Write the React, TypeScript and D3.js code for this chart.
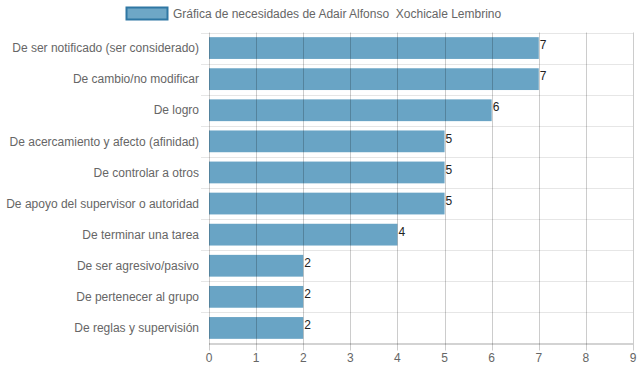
// Horizontal bar chart — "Gráfica de necesidades", drawn with d3 scales into JSX svg.
import * as d3 from "d3";

const CATEGORIES = [
  "De ser notificado (ser considerado)",
  "De cambio/no modificar",
  "De logro",
  "De acercamiento y afecto (afinidad)",
  "De controlar a otros",
  "De apoyo del supervisor o autoridad",
  "De terminar una tarea",
  "De ser agresivo/pasivo",
  "De pertenecer al grupo",
  "De reglas y supervisión",
];
const VALUES = [7, 7, 6, 5, 5, 5, 4, 2, 2, 2];
const X_TICKS = [0, 1, 2, 3, 4, 5, 6, 7, 8, 9];
const LEGEND_LABEL = "Gráfica de necesidades de Adair Alfonso  Xochicale Lembrino";

const W = 639;
const H = 372;
const FONT = "'Liberation Sans', Arial, Helvetica, sans-serif";

export default function App() {
  const left = 209;
  const right = 633;
  const top = 32.5;
  const bottom = 343.5;

  const x = d3.scaleLinear().domain([0, 9]).range([left, right]);
  const y = d3.scaleBand<string>().domain(CATEGORIES).range([top, bottom]).paddingInner(0).paddingOuter(0);
  const barH = y.bandwidth() * 0.7;

  return (
    <svg
      width={W}
      height={H}
      viewBox={`0 0 ${W} ${H}`}
      style={{ position: "absolute", left: 0, top: 0, background: "#fff" }}
    >
      {/* legend */}
      <rect x={126.5} y={7.5} width={41} height={12} fill="#6ea7c6" stroke="#2f77a3" strokeWidth={2} />
      <text
        x={173}
        y={14}
        dy="0.35em"
        fontFamily={FONT}
        fontSize={12}
        fill="#666"
        style={{ whiteSpace: "pre" }}
      >
        {LEGEND_LABEL}
      </text>

      {/* horizontal grid (offset, between bands) */}
      {CATEGORIES.map((c) => (
        <line
          key={`h-${c}`}
          x1={left - 8}
          x2={right}
          y1={Math.round(y(c)!) + 0.5}
          y2={Math.round(y(c)!) + 0.5}
          stroke="#e6e6e6"
          strokeWidth={1}
        />
      ))}

      {/* bars */}
      {CATEGORIES.map((c, i) => (
        <rect
          key={`b-${c}`}
          x={x(0)}
          y={y(c)! + (y.bandwidth() - barH) / 2}
          width={x(VALUES[i]) - x(0)}
          height={barH}
          fill="rgb(105,164,197)"
        />
      ))}

      {/* vertical grid + ticks */}
      {X_TICKS.map((t) => (
        <line
          key={`v-${t}`}
          x1={Math.round(x(t)) + 0.5}
          x2={Math.round(x(t)) + 0.5}
          y1={top}
          y2={bottom + 7}
          stroke="rgba(0,0,0,0.2)"
          strokeWidth={1}
        />
      ))}
      <line x1={left} x2={right} y1={bottom + 0.5} y2={bottom + 0.5} stroke="rgba(0,0,0,0.35)" />

      {/* x tick labels */}
      {X_TICKS.map((t) => (
        <text
          key={`xt-${t}`}
          x={x(t)}
          y={358}
          dy="0.35em"
          textAnchor="middle"
          fontFamily={FONT}
          fontSize={12}
          fill="#666"
        >
          {t}
        </text>
      ))}

      {/* category labels */}
      {CATEGORIES.map((c) => (
        <text
          key={`yl-${c}`}
          x={left - 10}
          y={y(c)! + y.bandwidth() / 2}
          dy="0.35em"
          textAnchor="end"
          fontFamily={FONT}
          fontSize={12}
          fill="#666"
        >
          {c}
        </text>
      ))}

      {/* value labels */}
      {CATEGORIES.map((c, i) => (
        <text
          key={`v-${c}`}
          x={x(VALUES[i]) + 1}
          y={y(c)! + y.bandwidth() / 2 - 3}
          dy="0.35em"
          fontFamily={FONT}
          fontSize={12}
          fill="#222"
        >
          {VALUES[i]}
        </text>
      ))}
    </svg>
  );
}
